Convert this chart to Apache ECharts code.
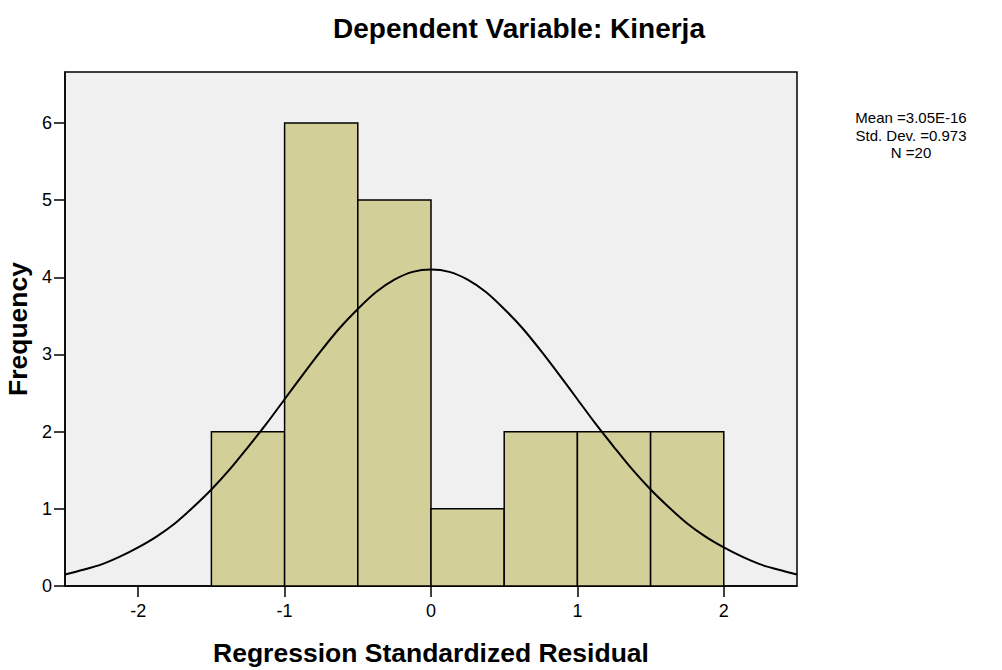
<!DOCTYPE html>
<html>
<head>
<meta charset="utf-8">
<script src="https://cdn.jsdelivr.net/npm/echarts@6/dist/echarts.min.js"></script>
<style>
  html, body { margin: 0; padding: 0; background: #fff; }
  #chart { width: 1002px; height: 670px; }
</style>
</head>
<body>
<div id="chart"></div>
<script>
// histogram bins (regression standardized residual) and their counts
const binStart = [-1.5, -1.0, -0.5, 0.0, 0.5, 1.0, 1.5];
const binEnd = [-1.0, -0.5, 0.0, 0.5, 1.0, 1.5, 2.0];
const counts = [2, 6, 5, 1, 2, 2, 2];

// normal curve
const curveX = [-2.5, -2.375, -2.25, -2.125, -2.0, -1.875, -1.75, -1.625, -1.5, -1.375,
  -1.25, -1.125, -1.0, -0.875, -0.75, -0.625, -0.5, -0.375, -0.25, -0.125, 0,
  0.125, 0.25, 0.375, 0.5, 0.625, 0.75, 0.875, 1.0, 1.125, 1.25, 1.375, 1.5,
  1.625, 1.75, 1.875, 2.0, 2.125, 2.25, 2.375, 2.5];
const curveY = [0.15, 0.21, 0.28, 0.38, 0.50, 0.64, 0.81, 1.02, 1.25, 1.51,
  1.80, 2.10, 2.42, 2.74, 3.05, 3.34, 3.59, 3.81, 3.97, 4.07, 4.10,
  4.07, 3.97, 3.81, 3.59, 3.34, 3.05, 2.74, 2.42, 2.10, 1.80, 1.51, 1.25,
  1.02, 0.81, 0.64, 0.50, 0.38, 0.28, 0.21, 0.15];

const xTicks = [-2, -1, 0, 1, 2];
const statLines = ['Mean =3.05E-16', 'Std. Dev. =0.973', 'N =20'];

const font = 'Liberation Sans, Arial, sans-serif';

const chart = echarts.init(document.getElementById('chart'), null, { renderer: 'svg' });

chart.setOption({
  animation: false,
  graphic: [{
    type: 'text', x: 519, y: 28,
    style: {
      text: 'Dependent Variable: Kinerja', align: 'center', verticalAlign: 'middle',
      font: 'bold 28px ' + font, fill: '#000'
    }
  }, {
    type: 'text', x: 911, y: 109,
    style: {
      text: statLines.join('\n'), align: 'center',
      font: '15px ' + font, lineHeight: 17.5, fill: '#000'
    }
  }],
  grid: {
    left: 65, top: 72, right: 205, bottom: 84,
    containLabel: false, outerBoundsMode: 'none',
    show: true, backgroundColor: '#f0f0f0', borderColor: '#000', borderWidth: 1.5
  },
  xAxis: {
    type: 'value', min: -2.5, max: 2.5,
    name: 'Regression Standardized Residual', nameLocation: 'middle', nameGap: 53,
    nameTextStyle: { fontFamily: font, fontSize: 26.5, fontWeight: 'bold', color: '#000' },
    axisLine: { lineStyle: { color: '#000', width: 1.5 } },
    axisTick: { length: 11, customValues: xTicks, lineStyle: { color: '#000', width: 1.5 } },
    axisLabel: {
      fontFamily: font, fontSize: 18, color: '#000', margin: 16,
      customValues: xTicks
    },
    splitLine: { show: false }
  },
  yAxis: {
    type: 'value', min: 0, max: 6.66, interval: 1,
    name: 'Frequency', nameLocation: 'middle', nameGap: 31,
    nameTextStyle: { fontFamily: font, fontSize: 26.5, fontWeight: 'bold', color: '#000' },
    axisLine: { show: true, onZero: false, lineStyle: { color: '#000', width: 1.5 } },
    axisTick: { show: true, length: 11, lineStyle: { color: '#000', width: 1.5 } },
    axisLabel: {
      fontFamily: font, fontSize: 18, color: '#000', margin: 13,
      showMaxLabel: false
    },
    splitLine: { show: false }
  },
  series: [{
    type: 'custom',
    data: binStart.map((s, i) => [s, binEnd[i], counts[i]]),
    renderItem: (params, api) => {
      const p0 = api.coord([api.value(0), 0]);
      const p1 = api.coord([api.value(1), api.value(2)]);
      return {
        type: 'rect',
        shape: { x: p0[0], y: p1[1], width: p1[0] - p0[0], height: p0[1] - p1[1] },
        style: { fill: '#d3cf98', stroke: '#000', lineWidth: 1.5 }
      };
    },
    encode: { x: [0, 1], y: 2 }
  }, {
    type: 'line',
    data: curveX.map((x, i) => [x, curveY[i]]),
    smooth: 0.3,
    symbol: 'none',
    lineStyle: { color: '#000', width: 2 },
    z: 5
  }]
});
</script>
</body>
</html>
